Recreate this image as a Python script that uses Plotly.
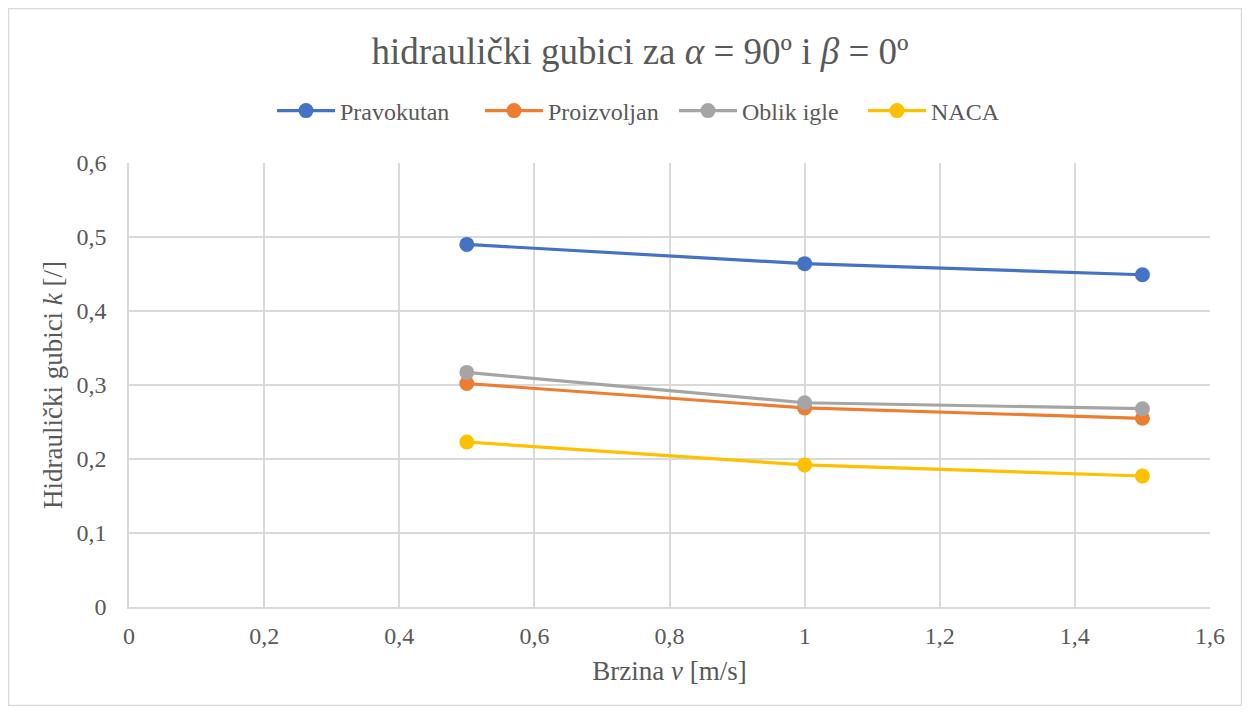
import plotly.graph_objects as go

speeds = [0.5, 1.0, 1.5]
pravokutan = [0.490, 0.464, 0.449]
proizvoljan = [0.302, 0.269, 0.255]
oblik_igle = [0.317, 0.276, 0.268]
naca = [0.223, 0.192, 0.177]

series_names = ["Pravokutan", "Proizvoljan", "Oblik igle", "NACA"]
series_values = [pravokutan, proizvoljan, oblik_igle, naca]
series_colors = ["#4472C4", "#ED7D31", "#A5A5A5", "#FFC000"]
legend_widths = [135, 121, 116, 70]

FONT = "Liberation Serif"
GREY = "#595959"

W, H = 1234, 698
L, T, R, B = 121, 155, 32, 99
PW, PH = W - L - R, H - T - B

fig = go.Figure()
for name, vals, col, lw in zip(series_names, series_values, series_colors, legend_widths):
    fig.add_trace(go.Scatter(
        x=speeds, y=vals, name=name, mode="lines+markers",
        line=dict(color=col, width=3.2),
        marker=dict(color=col, size=15),
        legendwidth=lw,
    ))

fig.update_layout(
    width=W, height=H,
    paper_bgcolor="white", plot_bgcolor="white",
    separators=", ",
    font=dict(family=FONT, color=GREY, size=24),
    margin=dict(l=L, r=R, t=T, b=B),
    title=dict(text="hidraulički gubici za <i>α</i> = 90º i <i>β</i> = 0º",
               x=(624 + 8) / W, xanchor="center", y=1 - 43 / H, yanchor="middle",
               xref="container",
               font=dict(size=37, color=GREY, family=FONT)),
    legend=dict(orientation="h", x=(264 - L) / PW, xanchor="left",
                y=(PH + T - 103) / PH, yanchor="middle",
                font=dict(size=24, color=GREY, family=FONT),
                itemwidth=58, tracegroupgap=0),
    showlegend=True,
    xaxis=dict(range=[0, 1.6], dtick=0.2, tick0=0,
               showgrid=True, gridcolor="#D9D9D9", gridwidth=1.5,
               showline=True, linecolor="#D9D9D9", linewidth=1.5,
               zeroline=False, ticks="", ticklen=0, ticklabelstandoff=6,
               tickfont=dict(size=24, color=GREY, family=FONT),
               title=dict(text="Brzina <i>v</i> [m/s]", standoff=14,
                          font=dict(size=27, color=GREY, family=FONT))),
    yaxis=dict(range=[0, 0.6], dtick=0.1, tick0=0,
               showgrid=True, gridcolor="#D9D9D9", gridwidth=1.5,
               showline=True, linecolor="#D9D9D9", linewidth=1.5,
               zeroline=False, ticks="", ticklen=0, ticklabelstandoff=16,
               tickfont=dict(size=24, color=GREY, family=FONT),
               title=dict(text="Hidraulički gubici <i>k</i> [/]", standoff=6,
                          font=dict(size=27, color=GREY, family=FONT))),
)

fig.add_shape(type="rect", xref="paper", yref="paper",
              x0=(0.5 - L) / PW, x1=(W - 0.5 - L) / PW,
              y0=(T + PH - (H - 0.5)) / PH, y1=(T + PH - 0.5) / PH,
              line=dict(color="#D9D9D9", width=1.5), layer="below")

fig.write_html("out.html")
